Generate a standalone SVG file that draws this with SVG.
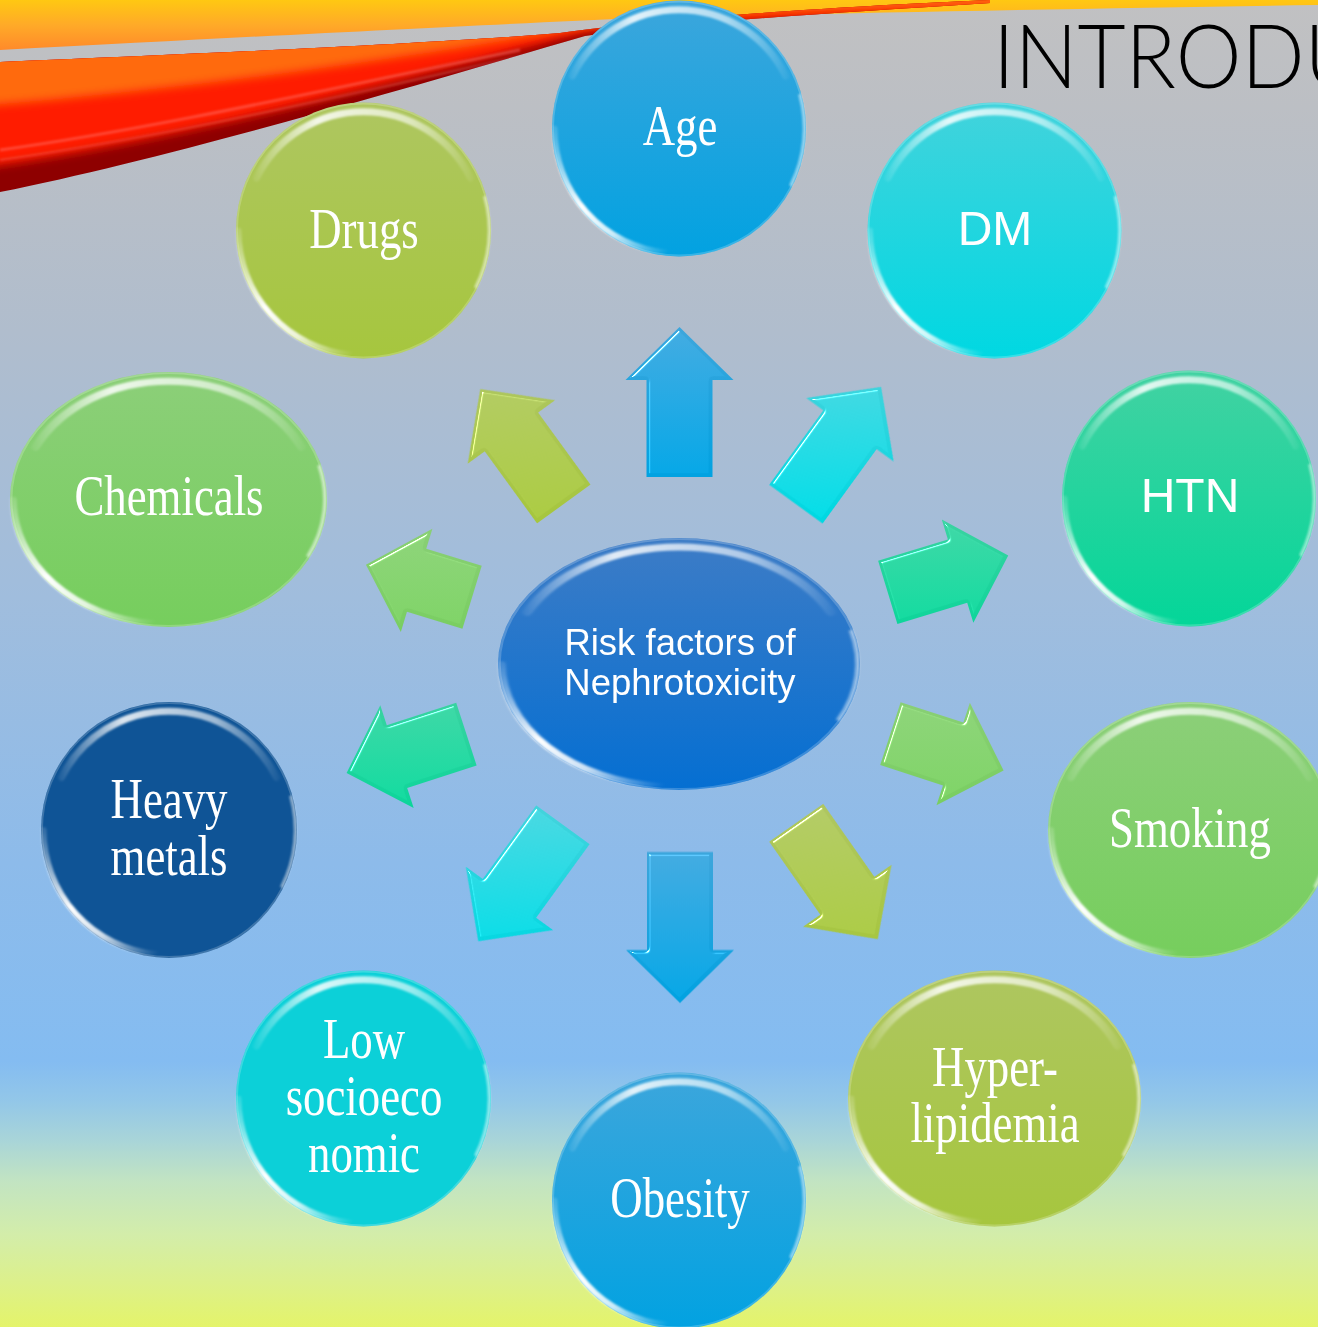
<svg xmlns="http://www.w3.org/2000/svg" width="1318" height="1327" viewBox="0 0 1318 1327">
  <style>
    .serif { font-family: "Liberation Serif", "Times New Roman", serif; font-size: 56px; fill: #ffffff; text-anchor: middle; }
    .sans { font-family: "Liberation Sans", Arial, sans-serif; fill: #ffffff; text-anchor: middle; }
    .title { font-family: "Lato", "Liberation Sans", Arial, sans-serif; font-weight: 300; font-size: 88px; fill: #000000; }
  </style>
  <defs>
    <!-- page background -->
    <linearGradient id="bg" x1="0" y1="0" x2="0" y2="1">
      <stop offset="0" stop-color="#c1c1c2"/>
      <stop offset="0.08" stop-color="#bcbfc4"/>
      <stop offset="0.25" stop-color="#b0bdcd"/>
      <stop offset="0.45" stop-color="#a0bddd"/>
      <stop offset="0.65" stop-color="#8dbbea"/>
      <stop offset="0.80" stop-color="#84bcf1"/>
      <stop offset="0.83" stop-color="#93c7e8"/>
      <stop offset="0.86" stop-color="#a9d5d8"/>
      <stop offset="0.89" stop-color="#c2e4c2"/>
      <stop offset="0.93" stop-color="#d3edaa"/>
      <stop offset="0.965" stop-color="#dcf08c"/>
      <stop offset="1" stop-color="#e4f46a"/>
    </linearGradient>
    <!-- top swoosh -->
    <linearGradient id="flameTop" x1="0" y1="0" x2="0" y2="1">
      <stop offset="0" stop-color="#ffc812"/>
      <stop offset="0.5" stop-color="#ffaa28"/>
      <stop offset="1" stop-color="#ff8a2a"/>
    </linearGradient>
    <clipPath id="bandClip">
      <path d="M0,62 C220,53 440,43 560,33 C640,22 780,9 990,0 L990,3 C820,14 680,22 585,36 C400,90 170,158 0,192 Z"/>
    </clipPath>
    <filter id="bandBlur" x="-5%" y="-20%" width="110%" height="140%">
      <feGaussianBlur stdDeviation="5"/>
    </filter>

    <!-- node fills -->
    <linearGradient id="pBlue" x1="0" y1="0" x2="0" y2="1">
      <stop offset="0" stop-color="#3ca6dc"/>
      <stop offset="1" stop-color="#02a2e1"/>
    </linearGradient>
    <linearGradient id="pCyan" x1="0" y1="0" x2="0" y2="1">
      <stop offset="0" stop-color="#42d3dc"/>
      <stop offset="1" stop-color="#00d8e2"/>
    </linearGradient>
    <linearGradient id="pTeal" x1="0" y1="0" x2="0" y2="1">
      <stop offset="0" stop-color="#42d2a2"/>
      <stop offset="1" stop-color="#04d699"/>
    </linearGradient>
    <linearGradient id="pGreen" x1="0" y1="0" x2="0" y2="1">
      <stop offset="0" stop-color="#8ccf79"/>
      <stop offset="1" stop-color="#76ce5d"/>
    </linearGradient>
    <linearGradient id="pOlive" x1="0" y1="0" x2="0" y2="1">
      <stop offset="0" stop-color="#aec660"/>
      <stop offset="1" stop-color="#a6c63e"/>
    </linearGradient>
    <linearGradient id="pCenter" x1="0" y1="0" x2="0" y2="1">
      <stop offset="0" stop-color="#3d7cc6"/>
      <stop offset="1" stop-color="#056fd2"/>
    </linearGradient>

    <!-- glossy rim used on every round node (unit radius 100) -->
    <linearGradient id="sheen" gradientUnits="userSpaceOnUse" x1="-90" y1="0" x2="90" y2="0">
      <stop offset="0" stop-color="#ffffff" stop-opacity="0"/>
      <stop offset="0.3" stop-color="#ffffff" stop-opacity="0.85"/>
      <stop offset="0.7" stop-color="#ffffff" stop-opacity="0.6"/>
      <stop offset="1" stop-color="#ffffff" stop-opacity="0"/>
    </linearGradient>
    <linearGradient id="glint" gradientUnits="userSpaceOnUse" x1="-98" y1="0" x2="-10" y2="98">
      <stop offset="0" stop-color="#ffffff" stop-opacity="0.15"/>
      <stop offset="0.45" stop-color="#ffffff" stop-opacity="1"/>
      <stop offset="0.7" stop-color="#ffffff" stop-opacity="0.8"/>
      <stop offset="1" stop-color="#ffffff" stop-opacity="0"/>
    </linearGradient>
    <filter id="soft" x="-20%" y="-20%" width="140%" height="140%">
      <feGaussianBlur stdDeviation="0.8"/>
    </filter>
    <g id="gloss" fill="none" stroke-linecap="round">
      <ellipse rx="99.2" ry="99.2" stroke="#ffffff" stroke-opacity="0.2" stroke-width="1.4"/>
      <path d="M-84,-41 A94,94 0 0 1 84,-41" stroke="url(#sheen)" stroke-width="5.5" filter="url(#soft)"/>
      <path d="M-98,0 A97.5,97.5 0 0 0 -10,97" stroke="url(#glint)" stroke-width="4.5" filter="url(#soft)"/>
      <path d="M95,-26 A98,98 0 0 1 88,44" stroke="#ffffff" stroke-opacity="0.55" stroke-width="2" filter="url(#soft)"/>
    </g>

    <!-- bevel on block arrows, lit from the upper left -->
    <filter id="bevel" x="-5%" y="-5%" width="110%" height="110%" color-interpolation-filters="sRGB">
      <feGaussianBlur in="SourceAlpha" stdDeviation="1.5" result="blur"/>
      <feSpecularLighting in="blur" surfaceScale="3" specularConstant="1.2" specularExponent="60" lighting-color="#ffffff" result="spec">
        <feDistantLight azimuth="225" elevation="50"/>
      </feSpecularLighting>
      <feComposite in="spec" in2="SourceAlpha" operator="in" result="specIn"/>
      <feComposite in="SourceGraphic" in2="specIn" operator="arithmetic" k1="0" k2="1" k3="0.9" k4="0"/>
    </filter>

    <!-- arrow fills, kept vertical on screen -->
    <linearGradient id="gAge" href="#pBlue" gradientUnits="userSpaceOnUse" x1="0" y1="-70" x2="0" y2="70"/>
    <linearGradient id="gDrugs" href="#pOlive" gradientUnits="userSpaceOnUse" x1="41" y1="-57" x2="-41" y2="57"/>
    <linearGradient id="gDm" href="#pCyan" gradientUnits="userSpaceOnUse" x1="-41" y1="-57" x2="41" y2="57"/>
    <linearGradient id="gChem" href="#pGreen" gradientUnits="userSpaceOnUse" x1="67" y1="-20" x2="-67" y2="20"/>
    <linearGradient id="gHtn" href="#pTeal" gradientUnits="userSpaceOnUse" x1="-67" y1="-20" x2="67" y2="20"/>
    <linearGradient id="gHeavy" href="#pTeal" gradientUnits="userSpaceOnUse" x1="67" y1="22" x2="-67" y2="-22"/>
    <linearGradient id="gSmoke" href="#pGreen" gradientUnits="userSpaceOnUse" x1="-67" y1="22" x2="67" y2="-22"/>
    <linearGradient id="gLow" href="#pCyan" gradientUnits="userSpaceOnUse" x1="41" y1="57" x2="-41" y2="-57"/>
    <linearGradient id="gObese" href="#pBlue" gradientUnits="userSpaceOnUse" x1="0" y1="70" x2="0" y2="-70"/>
    <linearGradient id="gHyper" href="#pOlive" gradientUnits="userSpaceOnUse" x1="-40" y1="57" x2="40" y2="-57"/>
  </defs>

  <!-- background -->
  <rect x="0" y="0" width="1318" height="1327" fill="url(#bg)"/>

  <!-- flame swoosh across the top -->
  <g id="swoosh">
    <path d="M0,0 L1318,0 L1318,5 C1100,8 800,14 640,18 C500,24 300,34 0,50 Z" fill="url(#flameTop)"/>
    <g clip-path="url(#bandClip)">
      <rect x="0" y="0" width="1000" height="200" fill="#8e0000"/>
      <path d="M-20,52 C220,46 440,32 580,20 C680,10 800,0 1000,-6 L1000,12 C820,18 680,22 585,32 C400,82 170,142 -20,168 Z" fill="#ff1a00" filter="url(#bandBlur)"/>
      <path d="M-20,44 C220,38 440,28 580,16 C680,6 800,-4 1000,-8 L1000,6 C800,10 680,16 580,28 C420,56 200,88 -20,106 Z" fill="#ff6a0a" filter="url(#bandBlur)"/>
      <path d="M0,150 C160,128 360,82 520,50" fill="none" stroke="#ff9a9a" stroke-opacity="0.35" stroke-width="3" filter="url(#soft)"/>
      <path d="M0,160 C170,136 370,90 530,54" fill="none" stroke="#ffb0b0" stroke-opacity="0.25" stroke-width="2" filter="url(#soft)"/>
    </g>
  </g>

  <!-- slide title -->
  <text class="title" x="993" y="88" textLength="372" lengthAdjust="spacingAndGlyphs">INTRODU</text>

  <!-- connectors: block arrows radiating from the centre -->
  <g id="connectors" filter="url(#bevel)">
    <path id="arrow-age" transform="translate(679.5 402)" fill="url(#gAge)" d="M0,-75 L54,-22 L33,-22 L33,75 L-33,75 L-33,-22 L-54,-22 Z"/>
    <path id="arrow-drugs" transform="translate(522 446.5) rotate(-36)" fill="url(#gDrugs)" d="M0,-71 L54,-18 L33,-18 L33,71 L-33,71 L-33,-18 L-54,-18 Z"/>
    <path id="arrow-dm" transform="translate(838.5 445.5) rotate(36)" fill="url(#gDm)" d="M0,-72.5 L54,-19.5 L33,-19.5 L33,72.5 L-33,72.5 L-33,-19.5 L-54,-19.5 Z"/>
    <path id="arrow-chemicals" transform="translate(419 581) rotate(-73)" fill="url(#gChem)" d="M0,-55.5 L54,-2.5 L33,-2.5 L33,55.5 L-33,55.5 L-33,-2.5 L-54,-2.5 Z"/>
    <path id="arrow-htn" transform="translate(948 574) rotate(73)" fill="url(#gHtn)" d="M0,-63 L54,-10 L33,-10 L33,63 L-33,63 L-33,-10 L-54,-10 Z"/>
    <path id="arrow-heavy" transform="translate(406.5 753.5) rotate(-108)" fill="url(#gHeavy)" d="M0,-63 L54,-10 L33,-10 L33,63 L-33,63 L-33,-10 L-54,-10 Z"/>
    <path id="arrow-smoking" transform="translate(947 752) rotate(108)" fill="url(#gSmoke)" d="M0,-59.5 L54,-6.5 L33,-6.5 L33,59.5 L-33,59.5 L-33,-6.5 L-54,-6.5 Z"/>
    <path id="arrow-low" transform="translate(520.6 883) rotate(-144)" fill="url(#gLow)" d="M0,-72 L54,-19 L33,-19 L33,72 L-33,72 L-33,-19 L-54,-19 Z"/>
    <path id="arrow-obesity" transform="translate(680 927.5) rotate(180)" fill="url(#gObese)" d="M0,-75.5 L54,-22.5 L33,-22.5 L33,75.5 L-33,75.5 L-33,-22.5 L-54,-22.5 Z"/>
    <path id="arrow-hyper" transform="translate(837 881) rotate(145)" fill="url(#gHyper)" d="M0,-71 L54,-18 L33,-18 L33,71 L-33,71 L-33,-18 L-54,-18 Z"/>
  </g>

  <!-- centre node -->
  <g id="node-center">
    <ellipse cx="679" cy="664" rx="181" ry="126" fill="url(#pCenter)"/>
    <use href="#gloss" transform="translate(679 664) scale(1.81 1.26)"/>
    <text class="sans" font-size="36.5" x="680" y="655">Risk factors of</text>
    <text class="sans" font-size="36.5" x="680" y="695">Nephrotoxicity</text>
  </g>

  <g id="node-age">
    <ellipse cx="679" cy="128.5" rx="127" ry="128" fill="url(#pBlue)"/>
    <use href="#gloss" transform="translate(679 128.5) scale(1.27 1.28)"/>
    <text class="serif" transform="translate(680 145) scale(0.8 1)">Age</text>
  </g>

  <g id="node-dm">
    <ellipse cx="994.5" cy="230.5" rx="127" ry="128" fill="url(#pCyan)"/>
    <use href="#gloss" transform="translate(994.5 230.5) scale(1.27 1.28)"/>
    <text class="sans" font-size="48" x="995" y="245">DM</text>
  </g>

  <g id="node-htn">
    <ellipse cx="1189" cy="498.5" rx="127" ry="128" fill="url(#pTeal)"/>
    <use href="#gloss" transform="translate(1189 498.5) scale(1.27 1.28)"/>
    <text class="sans" font-size="48" x="1190" y="512">HTN</text>
  </g>

  <g id="node-smoking">
    <ellipse cx="1190" cy="830" rx="142" ry="128" fill="url(#pGreen)"/>
    <use href="#gloss" transform="translate(1190 830) scale(1.42 1.28)"/>
    <text class="serif" transform="translate(1190 847) scale(0.8 1)">Smoking</text>
  </g>

  <g id="node-hyperlipidemia">
    <ellipse cx="994.5" cy="1098.5" rx="146.5" ry="128" fill="url(#pOlive)"/>
    <use href="#gloss" transform="translate(994.5 1098.5) scale(1.465 1.28)"/>
    <text class="serif" transform="translate(995 0) scale(0.8 1)"><tspan x="0" y="1086">Hyper-</tspan><tspan x="0" y="1142">lipidemia</tspan></text>
  </g>

  <g id="node-obesity">
    <ellipse cx="679" cy="1200.5" rx="127" ry="128" fill="url(#pBlue)"/>
    <use href="#gloss" transform="translate(679 1200.5) scale(1.27 1.28)"/>
    <text class="serif" transform="translate(680 1217) scale(0.8 1)">Obesity</text>
  </g>

  <g id="node-low-socioeconomic">
    <ellipse cx="363.5" cy="1098.5" rx="127.5" ry="128" fill="#0cd0d8"/>
    <use href="#gloss" transform="translate(363.5 1098.5) scale(1.275 1.28)"/>
    <text class="serif" transform="translate(364 0) scale(0.8 1)"><tspan x="0" y="1058">Low</tspan><tspan x="0" y="1115">socioeco</tspan><tspan x="0" y="1172">nomic</tspan></text>
  </g>

  <g id="node-heavy-metals">
    <ellipse cx="169" cy="830" rx="128" ry="128" fill="#0f5496"/>
    <use href="#gloss" transform="translate(169 830) scale(1.28 1.28)"/>
    <text class="serif" transform="translate(169 0) scale(0.8 1)"><tspan x="0" y="818">Heavy</tspan><tspan x="0" y="875">metals</tspan></text>
  </g>

  <g id="node-chemicals">
    <ellipse cx="168.5" cy="499.5" rx="158.5" ry="127.5" fill="url(#pGreen)"/>
    <use href="#gloss" transform="translate(168.5 499.5) scale(1.585 1.275)"/>
    <text class="serif" transform="translate(169 515) scale(0.8 1)">Chemicals</text>
  </g>

  <g id="node-drugs">
    <ellipse cx="363.5" cy="230.5" rx="127.5" ry="128" fill="url(#pOlive)"/>
    <use href="#gloss" transform="translate(363.5 230.5) scale(1.275 1.28)"/>
    <text class="serif" transform="translate(364 248) scale(0.8 1)">Drugs</text>
  </g>
</svg>
